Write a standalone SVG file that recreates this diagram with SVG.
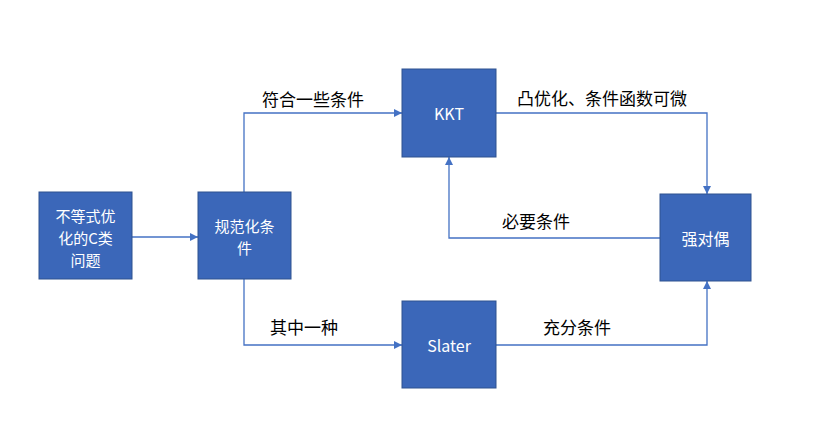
<svg xmlns="http://www.w3.org/2000/svg" width="840" height="442" viewBox="0 0 840 442">
  <style>
    .box { fill: #3b67b9; stroke: #2f528f; stroke-width: 1; }
    .ntext { fill: #ffffff; font-family: "Noto Sans CJK SC", "Liberation Sans", sans-serif; font-size: 16px; text-anchor: middle; dominant-baseline: central; }
    .ml { font-size: 15px; }
    .ltext { fill: #000000; font-family: "Noto Sans CJK SC", "Liberation Sans", sans-serif; font-size: 17px; dominant-baseline: central; }
    .edge { fill: none; stroke: #4472c4; stroke-width: 1.3; marker-end: url(#arrow); }
  </style>
  <defs>
    <marker id="arrow" viewBox="0 0 10 10" refX="10" refY="5" markerWidth="8" markerHeight="8" markerUnits="userSpaceOnUse" orient="auto">
      <path d="M0,0 L10,5 L0,10 z" fill="#4472c4"/>
    </marker>
  </defs>

  <g id="edges">
    <path class="edge" d="M132,237 L198,237"/>
    <path class="edge" d="M244,192 L244,113 L402,113"/>
    <path class="edge" d="M244,279 L244,345 L402,345"/>
    <path class="edge" d="M496,113 L707,113 L707,194"/>
    <path class="edge" d="M660,238 L449,238 L449,157"/>
    <path class="edge" d="M496,345 L707,345 L707,281"/>
  </g>

  <g id="labels">
    <text class="ltext" x="262" y="98">符合一些条件</text>
    <text class="ltext" x="517" y="97">凸优化、条件函数可微</text>
    <text class="ltext" x="502" y="220">必要条件</text>
    <text class="ltext" x="270" y="326">其中一种</text>
    <text class="ltext" x="543" y="326">充分条件</text>
  </g>

  <g id="problem">
    <rect class="box" x="39" y="192" width="93" height="87"/>
    <text class="ntext ml" x="85.5" y="215">不等式优</text>
    <text class="ntext ml" x="85.5" y="237">化的C类</text>
    <text class="ntext ml" x="85.5" y="259">问题</text>
  </g>

  <g id="normalize">
    <rect class="box" x="198" y="192" width="93" height="87"/>
    <text class="ntext ml" x="244.5" y="225">规范化条</text>
    <text class="ntext ml" x="244.5" y="247">件</text>
  </g>

  <g id="kkt">
    <rect class="box" x="402" y="69" width="94" height="88"/>
    <text class="ntext" x="449" y="113">KKT</text>
  </g>

  <g id="slater">
    <rect class="box" x="402" y="301" width="94" height="87"/>
    <text class="ntext" x="449" y="345">Slater</text>
  </g>

  <g id="strong-duality">
    <rect class="box" x="660" y="194" width="91" height="87"/>
    <text class="ntext" x="705.5" y="238">强对偶</text>
  </g>
</svg>
